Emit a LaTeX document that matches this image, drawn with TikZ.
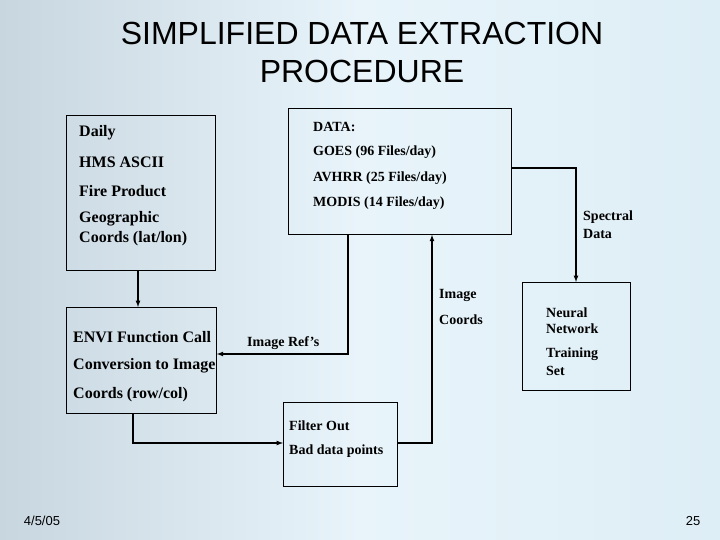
\documentclass[tikz,border=0pt]{standalone}
\usepackage{fontspec}
\setmainfont{Liberation Serif}
\newfontfamily\arialf{Liberation Sans}
\begin{document}
\begin{tikzpicture}[x=1pt,y=-1pt,
  box/.style={draw,line width=0.8pt},
  conn/.style={line width=1.2pt,-latex},
  txt/.style={anchor=west,font=\bfseries\fontsize{16}{19}\selectfont,inner sep=0},
  stxt/.style={anchor=west,font=\bfseries\fontsize{14}{17}\selectfont,inner sep=0}]
\shade[left color={rgb,255:red,200;green,214;blue,224},right color={rgb,255:red,222;green,238;blue,246},middle color={rgb,255:red,232;green,244;blue,250}] (0,0) rectangle (720,540);
\useasboundingbox (0,0) rectangle (720,540);
\node[font=\arialf\fontsize{32}{38}\selectfont,align=center] (title) at (362,52) {SIMPLIFIED DATA EXTRACTION\\PROCEDURE};
\node[box,minimum width=149,minimum height=155,anchor=north west] (daily) at (66,115) {};
\node[box,minimum width=223,minimum height=126,anchor=north west] (data) at (288,108) {};
\node[box,minimum width=150,minimum height=106,anchor=north west] (envi) at (66,307) {};
\node[box,minimum width=108,minimum height=108,anchor=north west] (nn) at (522,282) {};
\node[box,minimum width=114,minimum height=84,anchor=north west] (filt) at (283,402) {};
\node[txt] (t1) at (79,133) {Daily};
\node[txt] (t2) at (79,162) {HMS ASCII};
\node[txt] (t3) at (79,191) {Fire Product};
\node[txt] (t4) at (79,219) {Geographic};
\node[txt] (t5) at (79,239) {Coords (lat/lon)};
\node[stxt] (d1) at (313,127) {DATA:};
\node[stxt] (d2) at (313,152) {GOES (96 Files/day)};
\node[stxt] (d3) at (313,178) {AVHRR (25 Files/day)};
\node[stxt] (d4) at (313,203) {MODIS (14 Files/day)};
\node[txt] (e1) at (73,337) {ENVI Function Call};
\node[txt] (e2) at (73,366) {Conversion to Image};
\node[txt] (e3) at (73,395) {Coords (row/col)};
\node[stxt] (n1) at (546,313) {Neural};
\node[stxt] (n2) at (546,329) {Network};
\node[stxt] (n3) at (546,354) {Training};
\node[stxt] (n4) at (546,371) {Set};
\node[stxt] (f1) at (289,426) {Filter Out};
\node[stxt] (f2) at (289,451) {Bad data points};
\node[stxt] (l1) at (247,343) {Image Ref's};
\node[stxt] (l2) at (439,295) {Image};
\node[stxt] (l3) at (439,320) {Coords};
\node[stxt] (l4) at (583,217) {Spectral};
\node[stxt] (l5) at (583,234) {Data};
\node[font=\arialf\fontsize{13}{16}\selectfont] (date) at (42,521) {4/5/05};
\node[font=\arialf\fontsize{13}{16}\selectfont] (pg) at (693,521) {25};
\coordinate (dr) at (data.east |- 0,168);
\draw[conn] (daily.south -| 138,0) -- (envi.north -| 138,0);
\draw[conn] (dr) -| (nn.north -| 576,0);
\draw[conn] (data.south -| 348,0) |- (envi.east |- 0,354);
\draw[conn] (envi.south -| 133,0) |- (filt.west |- 0,443);
\draw[conn] (filt.east |- 0,443) -| (data.south -| 432,0);
\end{tikzpicture}
\end{document}
